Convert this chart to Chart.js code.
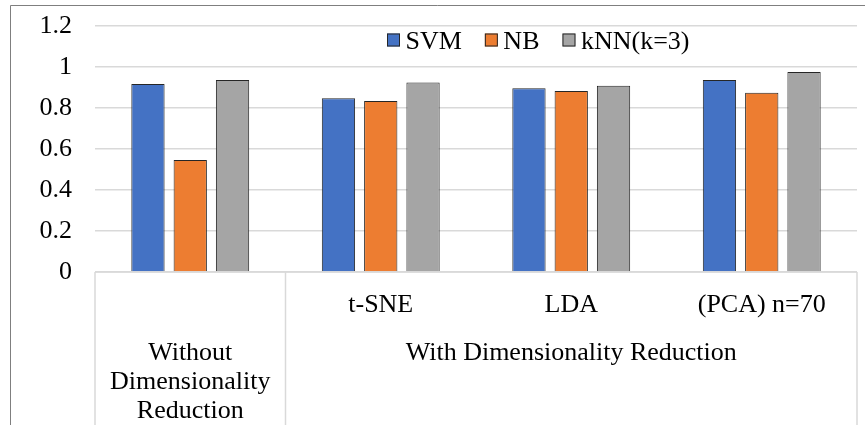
<!DOCTYPE html>
<html>
<head>
<meta charset="utf-8">
<script src="https://cdn.jsdelivr.net/npm/chart.js@4/dist/chart.umd.min.js"></script>
<style>
  html, body { margin: 0; padding: 0; background: #fff; overflow: hidden; }
  canvas { display: block; }
</style>
</head>
<body>
<canvas id="c" width="865" height="425"></canvas>
<script>
// Classification accuracy per method, with and without dimensionality reduction
const categories = ['Without Dimensionality Reduction', 't-SNE', 'LDA', '(PCA) n=70'];
const subLabels = ['', 't-SNE', 'LDA', '(PCA) n=70'];
const groupLabels = [['Without', 'Dimensionality', 'Reduction'], ['With Dimensionality Reduction']];
const groupSpans = [1, 3];
const seriesNames = ['SVM', 'NB', 'kNN(k=3)'];
const svm = [0.917, 0.847, 0.896, 0.937];
const nb = [0.546, 0.834, 0.883, 0.875];
const knn = [0.936, 0.925, 0.909, 0.976];
const yTickLabels = ['0', '0.2', '0.4', '0.6', '0.8', '1', '1.2'];

const colors = ['#4472C4', '#ED7D31', '#A5A5A5'];
const FONT = '"Liberation Serif", "Times New Roman", serif';

// Outer frame, two-level category table and the legend
const decorations = {
  id: 'decorations',
  afterDraw(chart) {
    const { ctx, chartArea: a } = chart;
    const n = categories.length;
    const cw = (a.right - a.left) / n;
    const H = chart.height;

    ctx.save();
    // chart frame
    ctx.strokeStyle = '#7f7f7f';
    ctx.lineWidth = 1;
    ctx.beginPath();
    ctx.moveTo(10.5, H);
    ctx.lineTo(10.5, 5.5);
    ctx.lineTo(chart.width, 5.5);
    ctx.stroke();

    // category table lines
    ctx.strokeStyle = '#d9d9d9';
    ctx.lineWidth = 1.5;
    ctx.beginPath();
    ctx.moveTo(a.left, a.bottom);
    ctx.lineTo(a.right, a.bottom);
    let acc = 0;
    const edges = [0];
    groupSpans.forEach(s => { acc += s; edges.push(acc); });
    edges.forEach(e => {
      const px = a.left + e * cw;
      ctx.moveTo(px, a.bottom);
      ctx.lineTo(px, H);
    });
    ctx.stroke();

    // category labels
    ctx.fillStyle = '#000';
    ctx.font = '26px ' + FONT;
    ctx.textAlign = 'center';
    ctx.textBaseline = 'alphabetic';
    const xs = chart.scales.x;
    subLabels.forEach((t, i) => {
      if (t) ctx.fillText(t, xs.getPixelForValue(i), a.bottom + 40);
    });
    let start = 0;
    groupLabels.forEach((lines, g) => {
      const cx = a.left + (start + groupSpans[g] / 2) * cw;
      lines.forEach((line, k) => ctx.fillText(line, cx, a.bottom + 88 + k * 29));
      start += groupSpans[g];
    });

    // legend
    ctx.font = '26px ' + FONT;
    ctx.textAlign = 'left';
    let lx = 387;
    seriesNames.forEach((name, i) => {
      ctx.fillStyle = colors[i];
      ctx.fillRect(lx, 33.5, 13, 13);
      ctx.strokeStyle = '#262626';
      ctx.lineWidth = 1;
      ctx.strokeRect(lx + 0.5, 34, 12, 12);
      ctx.fillStyle = '#000';
      ctx.fillText(name, lx + 18.5, 49);
      lx += 18.5 + ctx.measureText(name).width + 23;
    });
    ctx.restore();
  }
};

const series = [svm, nb, knn];
new Chart(document.getElementById('c'), {
  type: 'bar',
  data: {
    labels: categories,
    datasets: seriesNames.map((name, i) => ({
      label: name,
      data: series[i],
      backgroundColor: colors[i],
      borderColor: '#262626',
      borderWidth: 1,
      categoryPercentage: 0.666,
      barPercentage: 0.787
    }))
  },
  options: {
    responsive: false,
    animation: false,
    layout: { padding: { top: 26, right: 8, bottom: 153, left: 0 } },
    plugins: {
      legend: { display: false },
      tooltip: { enabled: false }
    },
    scales: {
      x: { display: false },
      y: {
        min: 0,
        max: 1.2,
        border: { display: false },
        grid: { color: '#d9d9d9', lineWidth: 1.5, drawTicks: false },
        ticks: {
          stepSize: 0.2,
          padding: 23,
          color: '#000',
          font: { family: FONT, size: 26 },
          callback: (v, i) => yTickLabels[i]
        },
        afterFit(scale) {
          scale.width = 95;
          scale.paddingTop = 0;
          scale.paddingBottom = 0;
        }
      }
    }
  },
  plugins: [decorations]
});
</script>
</body>
</html>
